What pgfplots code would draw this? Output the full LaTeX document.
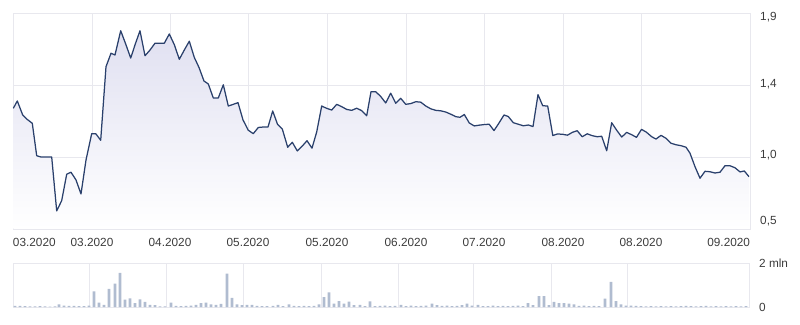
\documentclass[border=0pt]{standalone}
\usepackage{fontspec}
\setmainfont{Liberation Sans}
\usepackage{pgfplots}
\pgfplotsset{compat=1.18}
\definecolor{linec}{RGB}{42,64,108}
\definecolor{filltop}{RGB}{224,224,241}
\definecolor{gridc}{RGB}{232,232,238}
\definecolor{txt}{RGB}{60,60,60}
\definecolor{barc}{RGB}{176,188,208}
\pgfplotstableread{
x y
13.3 1.282
17.3 1.330
22.7 1.239
26.7 1.213
32.3 1.185
36.7 0.975
40.7 0.967
46.0 0.967
51.7 0.967
56.7 0.617
61.7 0.684
66.7 0.855
71.0 0.868
76.0 0.818
81.0 0.727
86.0 0.947
91.7 1.118
95.7 1.118
100.7 1.075
106.0 1.552
111.0 1.639
115.0 1.628
120.7 1.785
125.7 1.699
130.7 1.608
135.3 1.699
140.0 1.785
145.0 1.623
150.0 1.660
155.0 1.704
160.0 1.704
164.3 1.704
169.3 1.764
174.3 1.695
179.3 1.600
184.3 1.660
189.3 1.717
194.3 1.612
199.0 1.547
204.0 1.459
208.3 1.440
213.3 1.349
218.3 1.349
223.3 1.435
228.3 1.297
233.3 1.308
238.0 1.319
243.0 1.207
248.3 1.140
253.3 1.118
258.3 1.158
263.3 1.161
268.0 1.161
272.7 1.265
277.5 1.179
282.3 1.148
287.7 1.030
292.3 1.062
297.3 1.006
302.3 1.038
307.0 1.072
312.0 1.024
316.7 1.129
321.7 1.297
326.7 1.282
331.7 1.271
336.7 1.308
341.7 1.293
346.7 1.275
351.7 1.269
356.7 1.283
361.7 1.267
366.7 1.234
371.0 1.390
375.7 1.390
380.7 1.359
385.7 1.317
390.7 1.380
395.7 1.315
400.7 1.347
405.8 1.308
410.8 1.313
415.8 1.325
420.8 1.322
425.8 1.297
430.8 1.279
435.8 1.269
440.8 1.266
445.8 1.258
450.8 1.244
455.8 1.228
460.0 1.224
464.3 1.242
469.3 1.187
474.2 1.168
479.2 1.173
484.2 1.177
489.2 1.179
494.0 1.138
499.0 1.187
504.0 1.239
508.3 1.229
513.3 1.189
518.3 1.179
523.3 1.169
528.3 1.174
533.0 1.164
538.0 1.371
542.7 1.299
547.7 1.297
552.8 1.106
557.5 1.116
562.5 1.114
567.5 1.108
572.5 1.127
577.2 1.137
582.2 1.098
587.2 1.117
592.2 1.105
597.2 1.098
601.7 1.101
606.7 1.007
611.7 1.189
616.7 1.140
621.7 1.096
626.7 1.126
631.7 1.111
636.5 1.094
641.5 1.146
646.5 1.127
651.7 1.098
656.0 1.083
661.0 1.107
666.0 1.088
671.0 1.056
676.0 1.046
681.0 1.040
686.0 1.030
690.0 0.991
695.0 0.904
700.0 0.829
705.0 0.874
710.0 0.871
715.0 0.863
720.0 0.868
725.0 0.910
730.0 0.910
735.0 0.897
740.0 0.870
744.3 0.876
749.0 0.839
}\price
\pgfplotstableread{
x v
15 0.05
20 0.05
25 0.04
30 0.03
35 0.03
40 0.04
45 0.03
50 0.02
55 0.03
59 0.12
64 0.06
69 0.05
74 0.05
79 0.04
84 0.04
89 0.06
94 0.71
99 0.20
104 0.10
109 0.82
115 1.06
120 1.55
125 0.33
130 0.39
135 0.18
140 0.35
145 0.23
150 0.10
155 0.08
160 0.03
165 0.03
171 0.20
176 0.05
181 0.04
186 0.05
191 0.06
196 0.10
201 0.18
206 0.20
211 0.12
216 0.10
221 0.14
227 1.52
232 0.41
237 0.12
242 0.08
247 0.10
252 0.10
257 0.05
262 0.04
267 0.04
273 0.05
278 0.10
283 0.04
289 0.12
294 0.05
299 0.04
304 0.05
309 0.04
314 0.05
319 0.12
324 0.45
329 0.67
334 0.15
339 0.27
344 0.15
349 0.24
354 0.08
360 0.10
365 0.04
370 0.26
375 0.04
380 0.05
385 0.06
390 0.04
395 0.05
401 0.10
406 0.04
411 0.06
416 0.04
421 0.05
426 0.06
432 0.15
437 0.08
442 0.05
447 0.06
452 0.04
457 0.05
462 0.08
467 0.15
472 0.06
478 0.10
483 0.04
488 0.04
493 0.06
498 0.04
503 0.05
508 0.04
513 0.05
518 0.06
523 0.04
528 0.18
533 0.08
539 0.50
544 0.50
549 0.08
554 0.23
559 0.18
564 0.18
569 0.15
574 0.12
579 0.05
584 0.06
589 0.04
594 0.05
599 0.04
605 0.38
611 1.14
616 0.27
621 0.12
626 0.06
631 0.06
636 0.05
641 0.04
646 0.03
651 0.04
656 0.03
661 0.04
666 0.03
671 0.04
676 0.03
681 0.04
686 0.05
691 0.04
696 0.03
701 0.04
706 0.05
711 0.03
716 0.04
721 0.03
726 0.04
731 0.03
736 0.04
741 0.03
746 0.04
}\volume
\begin{document}
\begin{tikzpicture}
\path[use as bounding box] (0pt,0pt) rectangle (800pt,324pt);
\begin{axis}[
  at={(13pt,95pt)}, anchor=south west, scale only axis,
  width=737pt, height=216pt,
  xmin=13, xmax=750, ymin=0.5, ymax=1.9,
  axis line style={draw=gridc, line width=0.8pt},
  grid=major, major grid style={draw=gridc, line width=0.8pt},
  major tick length=0pt,
  xtick={92,170,248,327,406,484,563,641},
  xticklabels={03.2020,04.2020,05.2020,05.2020,06.2020,07.2020,08.2020,08.2020},
  extra x ticks={13,750},
  extra x tick labels={\makebox[0pt][l]{03.2020},\makebox[0pt][r]{09.2020}},
  extra x tick style={grid=none},
  ytick={0.5,0.966667,1.433333,1.9}, yticklabels={},
  extra y ticks={0.552,0.980,1.440,1.874},
  extra y tick labels={{0,5},{1,0},{1,4},{1,9}},
  extra y tick style={grid=none},
  yticklabel pos=right,
  tick label style={font=\fontsize{11.8}{13}\selectfont, text=txt},
  xticklabel style={inner sep=0pt, anchor=north, yshift=-9pt},
  yticklabel style={inner sep=0pt, anchor=west, xshift=10pt},
]
\addplot[draw=none, top color=filltop, bottom color=white] table[x=x,y=y] {\price} \closedcycle;
\addplot[color=linec, line width=1.25pt, line join=round, mark=none] table[x=x,y=y] {\price};
\end{axis}
\begin{axis}[
  at={(13pt,17pt)}, anchor=south west, scale only axis,
  width=736pt, height=44pt,
  xmin=13, xmax=749, ymin=0, ymax=2,
  axis line style={draw=gridc, line width=0.8pt},
  grid=major, major grid style={draw=gridc, line width=0.8pt},
  major tick length=0pt,
  xtick={89,166,243,321,398,473,551,627}, xticklabels={},
  ytick={0,2}, yticklabels={0,2 mln},
  yticklabel pos=right,
  tick label style={font=\fontsize{11.8}{13}\selectfont, text=txt},
  yticklabel style={inner sep=0pt, anchor=west, xshift=10pt},
]
\addplot[ybar, bar width=2.8pt, fill=barc, draw=none] table[x=x,y=v] {\volume};
\end{axis}
\end{tikzpicture}
\end{document}
